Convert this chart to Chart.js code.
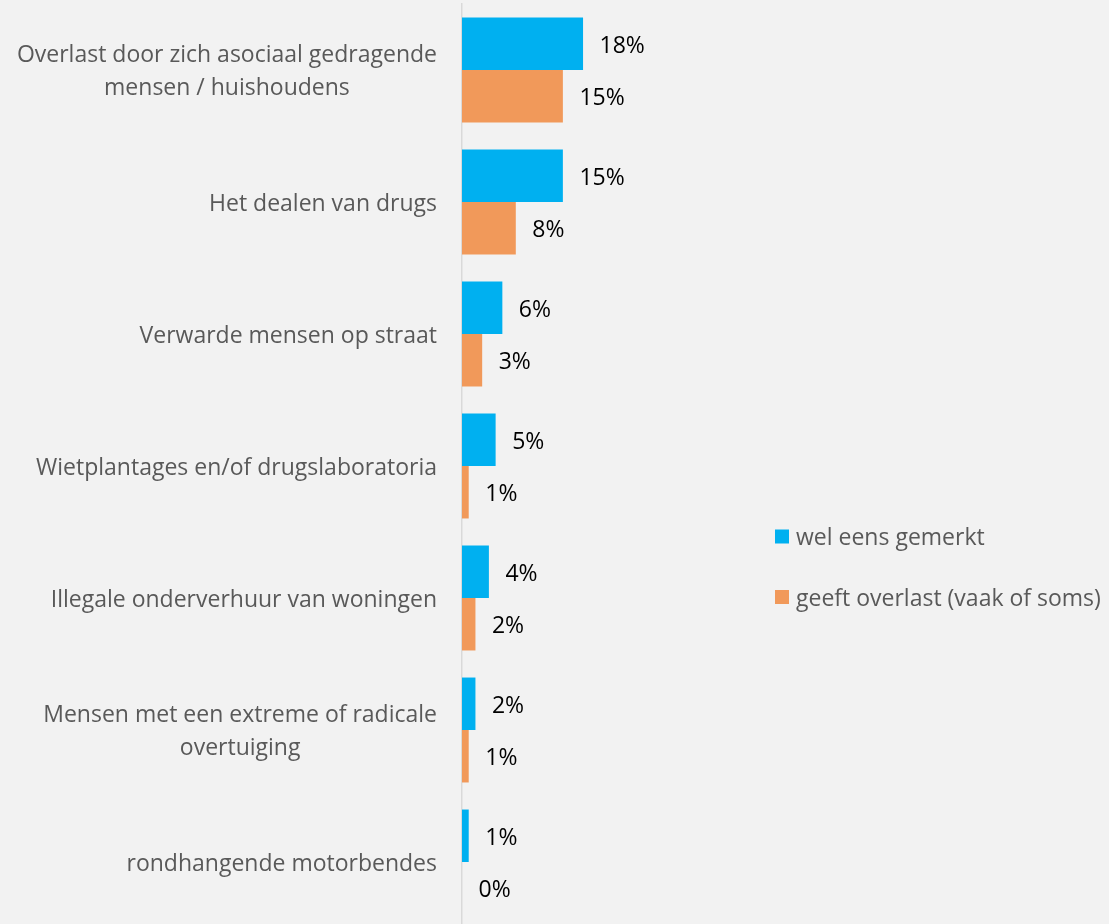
<!DOCTYPE html>
<html><head><meta charset="utf-8">
<script src="https://cdn.jsdelivr.net/npm/chart.js@4.4.1/dist/chart.umd.min.js"></script>
<style>
html,body{margin:0;padding:0;background:#f2f2f2;overflow:hidden;width:1109px;height:924px}
#wrap{position:relative;width:1109px;height:929px}
canvas{display:block}
</style></head><body>
<div id="wrap"><canvas id="c" width="1109" height="929"></canvas></div>
<script>
const categories = [
  ['Overlast door zich asociaal gedragende', 'mensen / huishoudens'],
  ['Het dealen van drugs'],
  ['Verwarde mensen op straat'],
  ['Wietplantages en/of drugslaboratoria'],
  ['Illegale onderverhuur van woningen'],
  ['Mensen met een extreme of radicale', 'overtuiging'],
  ['rondhangende motorbendes']
];
const seriesNames = ['wel eens gemerkt', 'geeft overlast (vaak of soms)'];
const welEensGemerkt = [18, 15, 6, 5, 4, 2, 1];
const geeftOverlast = [15, 8, 3, 1, 2, 1, 0];
const seriesColors = ['#00B0F0', '#F1995A'];

const LABEL_FONT = '23px "Open Sans"';
const VALUE_FONT = '23px "Open Sans"';
const TEXT_GREY = '#595959';

const categoryLabelPlugin = {
  id: 'categoryLabels',
  afterDraw(chart) {
    const ctx = chart.ctx, ys = chart.scales.y;
    const right = chart.chartArea.left - 25;
    const lh = 33;
    ctx.save();
    ctx.font = LABEL_FONT;
    ctx.fillStyle = TEXT_GREY;
    ctx.textBaseline = 'middle';
    categories.forEach((lines, i) => {
      const cy = ys.getPixelForValue(i) + 2;
      const w0 = ctx.measureText(lines[0]).width;
      lines.forEach((t, j) => {
        const ty = cy + (j - (lines.length - 1) / 2) * lh;
        if (j === 0) { ctx.textAlign = 'right'; ctx.fillText(t, right, ty); }
        else { ctx.textAlign = 'center'; ctx.fillText(t, right - w0 / 2, ty); }
      });
    });
    ctx.restore();
  }
};

const valueLabelPlugin = {
  id: 'valueLabels',
  afterDatasetsDraw(chart) {
    const ctx = chart.ctx;
    ctx.save();
    ctx.font = VALUE_FONT;
    ctx.fillStyle = '#000000';
    ctx.textAlign = 'left';
    ctx.textBaseline = 'middle';
    chart.data.datasets.forEach((ds, di) => {
      const meta = chart.getDatasetMeta(di);
      meta.data.forEach((el, i) => {
        ctx.fillText(Math.round(ds.data[i]) + '%', el.x + 16.5, el.y + 2.5);
      });
    });
    ctx.restore();
  }
};

const legendPlugin = {
  id: 'sideLegend',
  afterDraw(chart) {
    const ctx = chart.ctx;
    const x0 = chart.chartArea.right + 44;
    const centers = [536.5, 597];
    ctx.save();
    ctx.font = LABEL_FONT;
    ctx.textAlign = 'left';
    ctx.textBaseline = 'middle';
    chart.data.datasets.forEach((ds, i) => {
      ctx.fillStyle = ds.backgroundColor;
      ctx.fillRect(x0, centers[i] - 7, 14, 14);
      ctx.fillStyle = TEXT_GREY;
      ctx.fillText(ds.label, x0 + 21, centers[i] + 2);
    });
    ctx.restore();
  }
};

new Chart(document.getElementById('c'), {
  type: 'bar',
  data: {
    labels: categories,
    datasets: [
      { label: seriesNames[0], data: welEensGemerkt, backgroundColor: seriesColors[0] },
      { label: seriesNames[1], data: geeftOverlast, backgroundColor: seriesColors[1] }
    ]
  },
  options: {
    indexAxis: 'y',
    responsive: false,
    animation: false,
    events: [],
    barPercentage: 1,
    categoryPercentage: 0.795,
    layout: { padding: { left: 462, right: 378, top: 4, bottom: 1 } },
    plugins: { legend: { display: false }, tooltip: { enabled: false } },
    scales: {
      x: { display: false, min: 0, max: 40 },
      y: {
        display: true,
        afterFit(s) { s.width = 0; },
        ticks: { display: false },
        grid: { display: false, drawTicks: false },
        border: { display: true, color: '#d9d9d9', width: 1.5 }
      }
    }
  },
  plugins: [categoryLabelPlugin, valueLabelPlugin, legendPlugin]
});
</script>
</body></html>
